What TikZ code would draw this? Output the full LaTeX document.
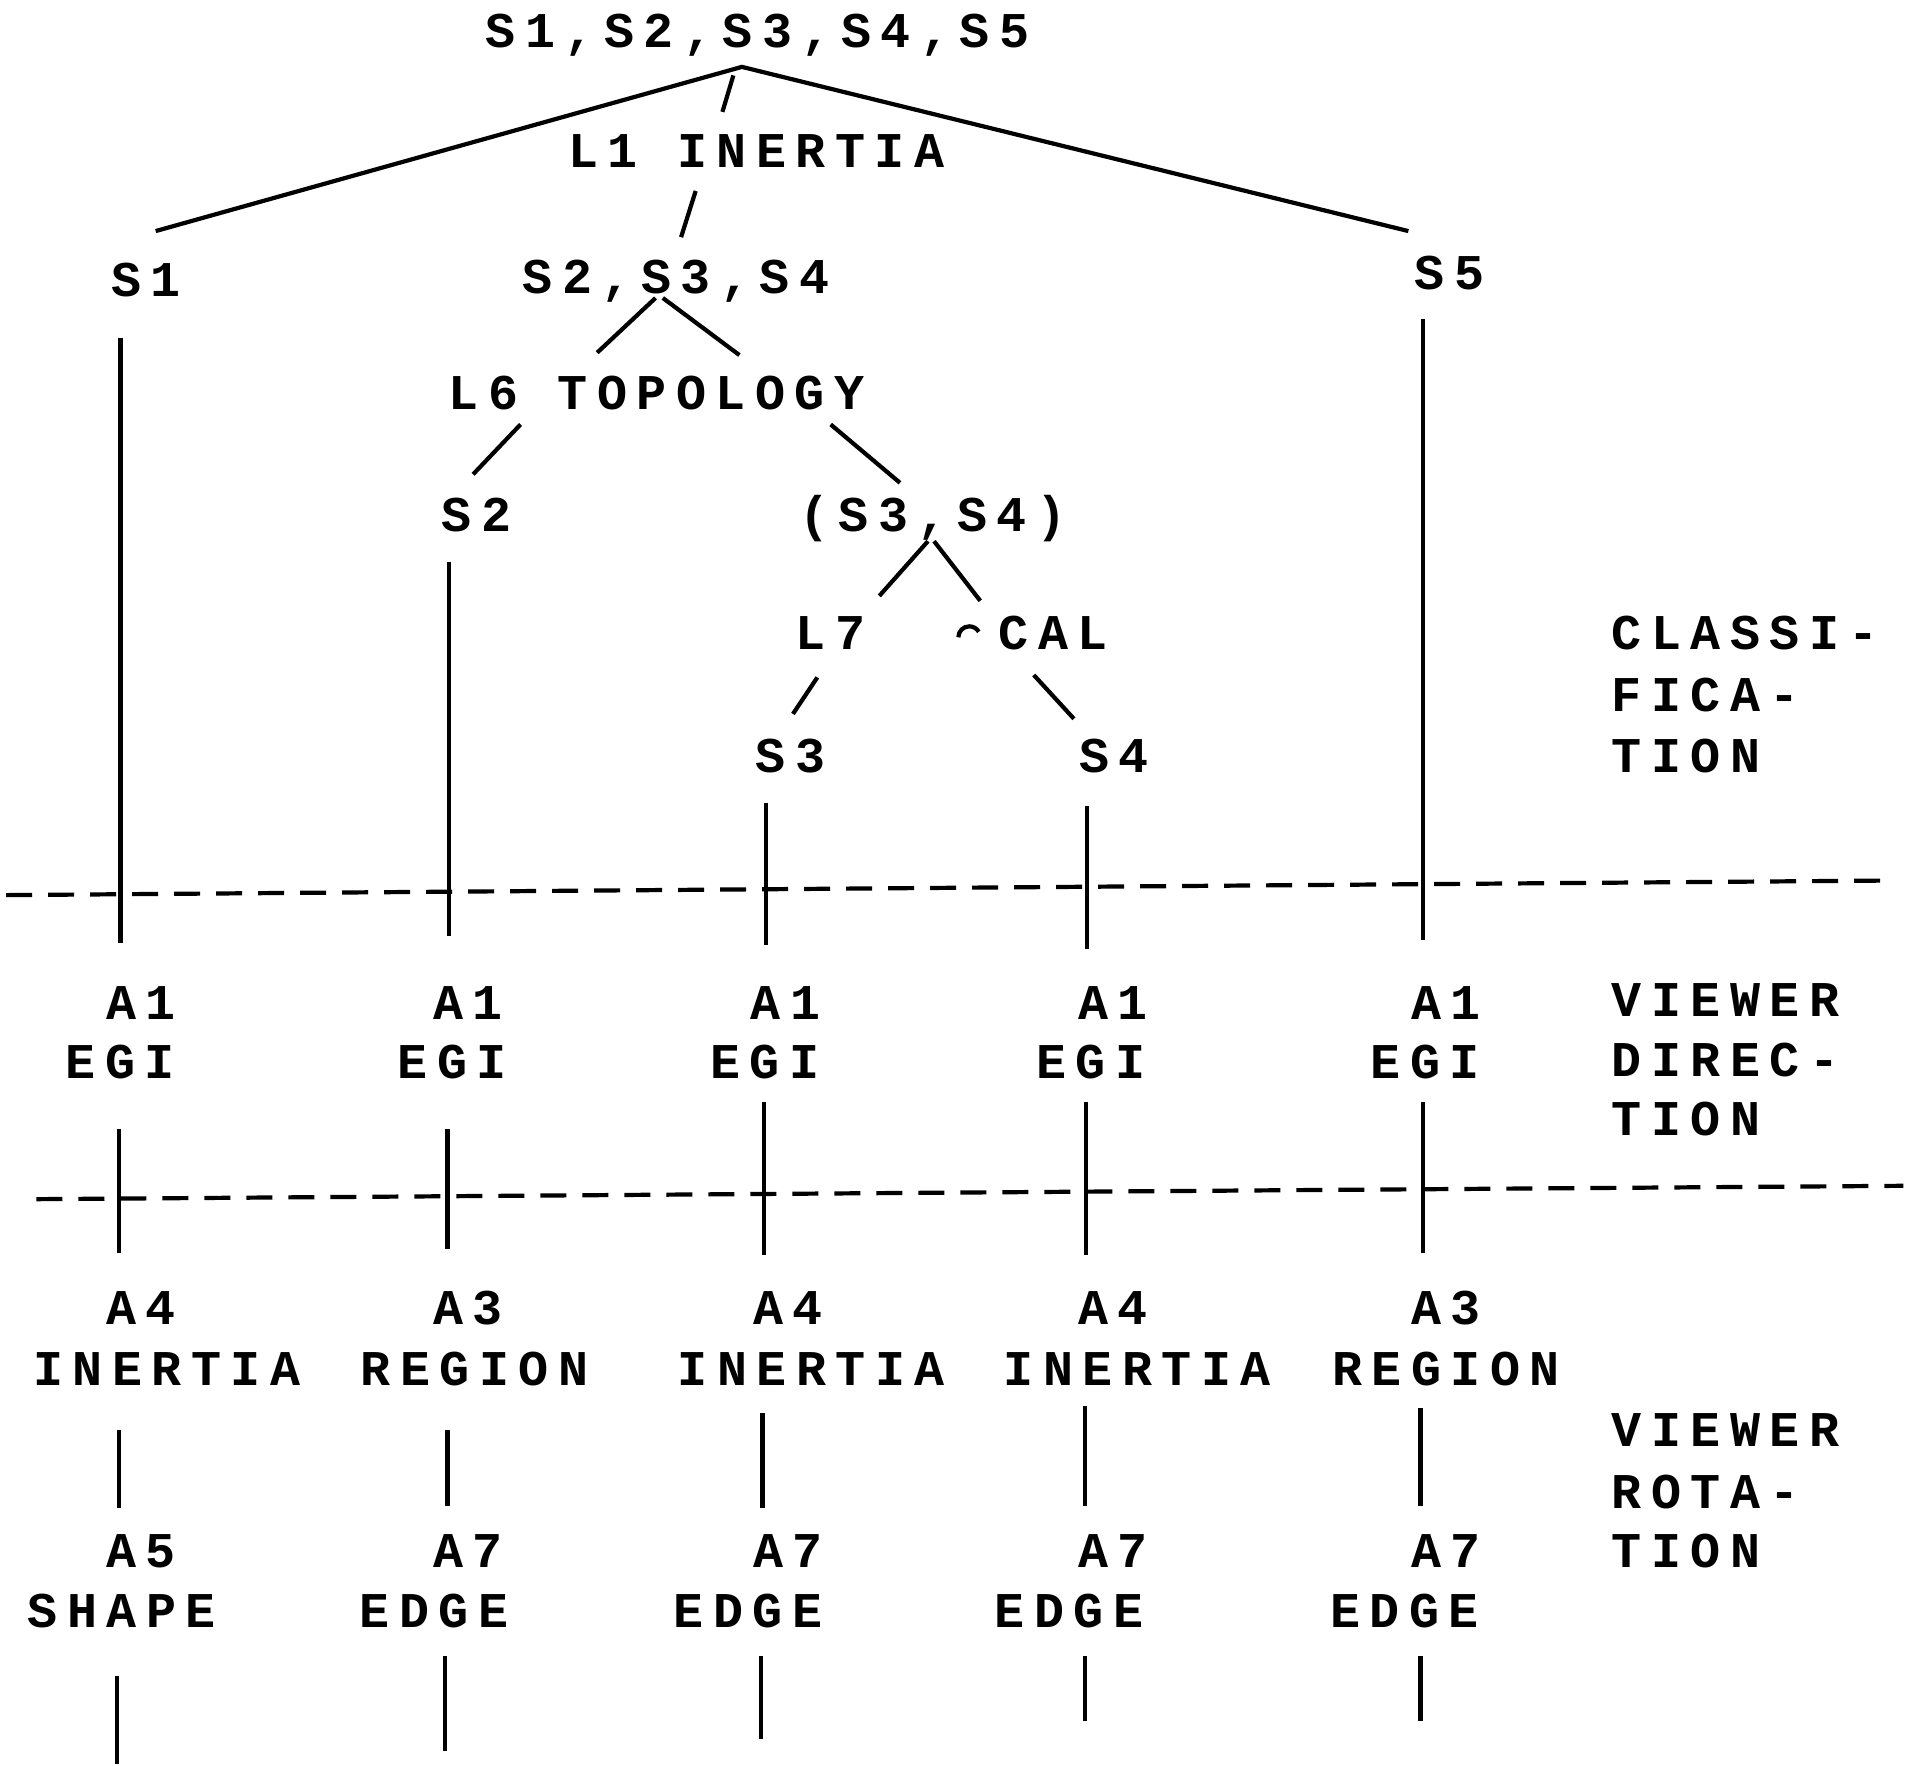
\documentclass[tikz,border=0pt]{standalone}
\usepackage{fontspec}
\newfontfamily\tw{Liberation Mono}[LetterSpace=19]
\begin{document}
\begin{tikzpicture}[x=0.6081pt,y=-0.6081pt,
  lbl/.style={font=\tw\bfseries\fontsize{25}{25}\selectfont, inner sep=0pt, anchor=base},
  rlbl/.style={lbl, anchor=base west},
  ln/.style={line width=2.1pt},
  dsh/.style={line width=2.1pt, dash pattern=on 13pt off 8pt}]
\useasboundingbox (0,0) rectangle (1568,1452);
% ---- classification tree ----
\node[lbl] (top) at (623,39) {S1,S2,S3,S4,S5};
\node[lbl] (L1) at (622,138) {L1 INERTIA};
\node[lbl] (S1) at (120,244) {S1};
\node[lbl] (S234) at (556,241) {S2,S3,S4};
\node[lbl] (S5) at (1192,238) {S5};
\node[lbl] (L6) at (540,337) {L6 TOPOLOGY};
\node[lbl] (S2) at (392,437) {S2};
\node[lbl] (S34) at (767,437) {(S3,S4)};
\node[lbl] (L7) at (683,534) {L7};
\node[lbl] (CAL) at (866,534) {CAL};
\node[lbl] (S3) at (650,635) {S3};
\node[lbl] (S4) at (916,635) {S4};
\draw[ln] (788,524) arc (180:330:9);
% right labels
\node[rlbl] (c1) at (1325,534) {CLASSI-};
\node[rlbl] (c2) at (1325,585) {FICA-};
\node[rlbl] (c3) at (1325,635) {TION};
\node[rlbl] (v1) at (1325,836) {VIEWER};
\node[rlbl] (v2) at (1325,885) {DIREC-};
\node[rlbl] (v3) at (1325,934) {TION};
\node[rlbl] (r1) at (1325,1189) {VIEWER};
\node[rlbl] (r2) at (1325,1240) {ROTA-};
\node[rlbl] (r3) at (1325,1289) {TION};
% tree connectors
\coordinate (apex) at (610,55);
\coordinate (eS1) at (128,190);
\coordinate (eS5) at (1158,190);
\draw[ln] (eS1) -- (apex) -- (eS5);
\coordinate (a1) at (603,62); \coordinate (a2) at (594,92);
\draw[ln] (a1) -- (a2);
\coordinate (b1) at (572,157); \coordinate (b2) at (560,195);
\draw[ln] (b1) -- (b2);
\coordinate (c1a) at (539,245); \coordinate (c1b) at (491,290);
\draw[ln] (c1a) -- (c1b);
\coordinate (c2a) at (545,245); \coordinate (c2b) at (608,292);
\draw[ln] (c2a) -- (c2b);
\coordinate (d1a) at (428,349); \coordinate (d1b) at (389,390);
\draw[ln] (d1a) -- (d1b);
\coordinate (d2a) at (683,349); \coordinate (d2b) at (740,397);
\draw[ln] (d2a) -- (d2b);
\coordinate (e1a) at (763,445); \coordinate (e1b) at (723,490);
\draw[ln] (e1a) -- (e1b);
\coordinate (e2a) at (768,445); \coordinate (e2b) at (806,494);
\draw[ln] (e2a) -- (e2b);
\coordinate (f1a) at (672,557); \coordinate (f1b) at (652,587);
\draw[ln] (f1a) -- (f1b);
\coordinate (f2a) at (850,555); \coordinate (f2b) at (883,591);
\draw[ln] (f2a) -- (f2b);
% vertical lines through first dashed line
\draw[ln] (99,278) -- (99,775);
\draw[ln] (369,462) -- (369,770);
\draw[ln] (630,660) -- (630,777);
\draw[ln] (894,663) -- (894,780);
\draw[ln] (1170,262) -- (1170,773);
% dashed separators
\coordinate (h1l) at (5,736); \coordinate (h1r) at (1555,724);
\draw[dsh] (h1l) -- (h1r);
\coordinate (h2l) at (30,986); \coordinate (h2r) at (1565,975);
\draw[dsh] (h2l) -- (h2r);
% viewer direction row
\foreach \x/\n in {116/1,385/2,646/3,915/4,1189/5}
  \node[lbl] (A1\n) at (\x,838) {A1};
\foreach \x/\n in {99/1,372/2,629/3,897/4,1172/5}
  \node[lbl] (EGI\n) at (\x,887) {EGI};
\draw[ln] (98,928) -- (98,1030);
\draw[ln] (368,928) -- (368,1027);
\draw[ln] (628,906) -- (628,1032);
\draw[ln] (893,906) -- (893,1032);
\draw[ln] (1170,906) -- (1170,1030);
% viewer rotation rows
\node[lbl] (Ra1) at (116,1089) {A4};
\node[lbl] (Ra2) at (385,1089) {A3};
\node[lbl] (Ra3) at (648,1089) {A4};
\node[lbl] (Ra4) at (915,1089) {A4};
\node[lbl] (Ra5) at (1189,1089) {A3};
\node[lbl] (Rb1) at (137,1139) {INERTIA};
\node[lbl] (Rb2) at (390,1139) {REGION};
\node[lbl] (Rb3) at (667,1139) {INERTIA};
\node[lbl] (Rb4) at (935,1139) {INERTIA};
\node[lbl] (Rb5) at (1189,1139) {REGION};
\draw[ln] (98,1176) -- (98,1240);
\draw[ln] (368,1176) -- (368,1238);
\draw[ln] (627,1162) -- (627,1240);
\draw[ln] (892,1156) -- (892,1238);
\draw[ln] (1168,1158) -- (1168,1238);
\node[lbl] (Sa1) at (116,1289) {A5};
\node[lbl] (Sa2) at (385,1289) {A7};
\node[lbl] (Sa3) at (648,1289) {A7};
\node[lbl] (Sa4) at (915,1289) {A7};
\node[lbl] (Sa5) at (1189,1289) {A7};
\node[lbl] (Sb1) at (100,1338) {SHAPE};
\node[lbl] (Sb2) at (357,1338) {EDGE};
\node[lbl] (Sb3) at (615,1338) {EDGE};
\node[lbl] (Sb4) at (879,1338) {EDGE};
\node[lbl] (Sb5) at (1155,1338) {EDGE};
\draw[ln] (96,1378) -- (96,1450);
\draw[ln] (366,1362) -- (366,1440);
\draw[ln] (626,1362) -- (626,1430);
\draw[ln] (892,1362) -- (892,1415);
\draw[ln] (1168,1362) -- (1168,1415);
\end{tikzpicture}
\end{document}
